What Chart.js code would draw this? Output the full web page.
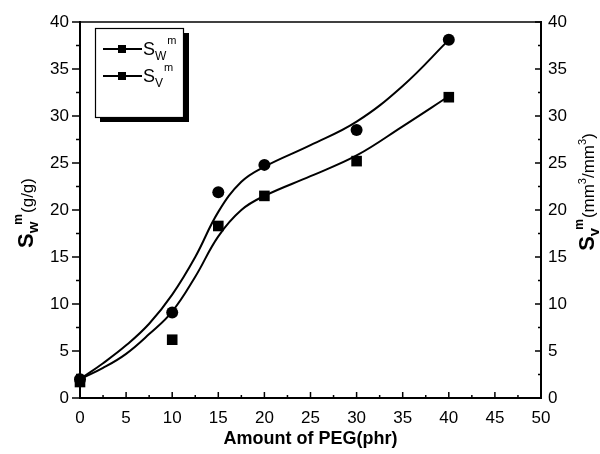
<!DOCTYPE html>
<html>
<head>
<meta charset="utf-8">
<script src="https://cdn.jsdelivr.net/npm/chart.js@4.4.1/dist/chart.umd.min.js"></script>
<style>
  html, body { margin: 0; padding: 0; background: #fff; }
  #wrap { width: 600px; height: 454px; }
</style>
</head>
<body>
<div id="wrap"><canvas id="c" width="600" height="454"></canvas></div>
<script>
// measured points
const pegPhr = [0, 10, 15, 20, 30, 40];
const swm = [2.0, 9.1, 21.9, 24.8, 28.5, 38.1];
const svm = [1.7, 6.2, 18.3, 21.5, 25.2, 32.0];

// fitted curves
const fitPhr = [0, 2.5, 5, 7.5, 10, 12.5, 15, 17.5, 20, 25, 30, 35, 40];
const fitSwm = [2.0, 3.7, 5.6, 7.9, 11.0, 15.0, 19.8, 23.0, 24.6, 26.9, 29.4, 33.2, 38.1];
const fitSvm = [2.0, 3.2, 4.7, 6.8, 9.2, 12.9, 17.2, 20.0, 21.5, 23.6, 25.8, 28.9, 32.1];

const xTicks = [0, 5, 10, 15, 20, 25, 30, 35, 40, 45, 50];
const yTicks = [0, 5, 10, 15, 20, 25, 30, 35, 40];

const FONT = '"Liberation Sans", Arial, sans-serif';

let pts = (xs, ys) => xs.map((x, i) => ({x: x, y: ys[i]}));
let setTicks = list => scale => { scale.ticks = list.map(v => ({value: v})); };

// draw a run of text pieces (sub/superscripts) starting at x along the baseline
let drawParts = (ctx, parts, x, y) => {
	for (let p of parts) {
		ctx.font = p.font;
		ctx.fillText(p.t, x + (p.dx || 0), y + (p.dy || 0));
		x += ctx.measureText(p.t).width + (p.dx || 0);
	}
};
let partsWidth = (ctx, parts) => {
	let w = 0;
	for (let p of parts) { ctx.font = p.font; w += ctx.measureText(p.t).width + (p.dx || 0); }
	return w;
};

const leftTitle = [
	{t: 'S', font: 'bold 22px ' + FONT},
	{t: 'w', font: 'bold 15px ' + FONT, dy: 5},
	{t: 'm', font: 'bold 12px ' + FONT, dy: -11, dx: -3},
	{t: '(g/g)', font: '17px ' + FONT, dx: 1}
];
const rightTitle = [
	{t: 'S', font: 'bold 22px ' + FONT},
	{t: 'v', font: 'bold 15px ' + FONT, dy: 5},
	{t: 'm', font: 'bold 12px ' + FONT, dy: -11, dx: -2},
	{t: '(mm', font: '17px ' + FONT, dx: 1},
	{t: '3', font: '11px ' + FONT, dy: -8},
	{t: '/mm', font: '17px ' + FONT},
	{t: '3', font: '11px ' + FONT, dy: -8},
	{t: ')', font: '17px ' + FONT}
];

const decor = {
	id: 'decor',
	afterDraw(chart) {
		const ctx = chart.ctx;
		const a = chart.chartArea;
		const sx = chart.scales.x, sy = chart.scales.y, sy2 = chart.scales.y2;
		ctx.save();
		ctx.strokeStyle = '#000';
		ctx.fillStyle = '#000';

		// top frame line
		ctx.lineWidth = 1.5;
		ctx.beginPath();
		ctx.moveTo(a.left, a.top);
		ctx.lineTo(a.right, a.top);
		ctx.stroke();

		// tick marks: left outward, bottom and right inward
		ctx.lineWidth = 1.5;
		ctx.beginPath();
		for (let i = 0; i < yTicks.length; i++) {
			let v = yTicks[i];
			let py = sy.getPixelForValue(v);
			ctx.moveTo(a.left, py); ctx.lineTo(a.left - 8, py);
			let py2 = sy2.getPixelForValue(v);
			ctx.moveTo(a.right, py2); ctx.lineTo(a.right - 6, py2);
			if (i < yTicks.length - 1) {
				let m = (v + yTicks[i + 1]) / 2;
				let pm = sy.getPixelForValue(m);
				ctx.moveTo(a.left, pm); ctx.lineTo(a.left - 4, pm);
				ctx.moveTo(a.right, pm); ctx.lineTo(a.right - 3, pm);
			}
		}
		for (let i = 0; i < xTicks.length; i++) {
			let v = xTicks[i];
			let px = sx.getPixelForValue(v);
			ctx.moveTo(px, a.bottom); ctx.lineTo(px, a.bottom - 6);
			if (i < xTicks.length - 1) {
				let pm = sx.getPixelForValue((v + xTicks[i + 1]) / 2);
				ctx.moveTo(pm, a.bottom); ctx.lineTo(pm, a.bottom - 3);
			}
		}
		ctx.stroke();

		// axis titles
		ctx.textBaseline = 'alphabetic';
		ctx.textAlign = 'left';
		ctx.font = 'bold 18px ' + FONT;
		let xt = 'Amount of PEG(phr)';
		ctx.fillText(xt, (a.left + a.right) / 2 - ctx.measureText(xt).width / 2, 444);

		ctx.save();
		ctx.translate(33, 213);
		ctx.rotate(-Math.PI / 2);
		drawParts(ctx, leftTitle, -partsWidth(ctx, leftTitle) / 2, 0);
		ctx.restore();

		ctx.save();
		ctx.translate(594, 192);
		ctx.rotate(-Math.PI / 2);
		drawParts(ctx, rightTitle, -partsWidth(ctx, rightTitle) / 2, 0);
		ctx.restore();

		// legend box with drop shadow
		ctx.fillRect(100, 33, 89, 89);
		ctx.fillStyle = '#fff';
		ctx.fillRect(95, 28, 88, 89);
		ctx.fillStyle = '#000';
		ctx.lineWidth = 1.2;
		ctx.strokeRect(95.5, 28.5, 88, 89);

		let entries = [{y: 49, sub: 'W'}, {y: 76, sub: 'V'}];
		for (let e of entries) {
			ctx.lineWidth = 2;
			ctx.beginPath();
			ctx.moveTo(103, e.y); ctx.lineTo(142, e.y);
			ctx.stroke();
			ctx.fillRect(118, e.y - 4, 8, 8);
			drawParts(ctx, [
				{t: 'S', font: '18px ' + FONT},
				{t: e.sub, font: '12px ' + FONT, dy: 5},
				{t: 'm', font: '11px ' + FONT, dy: -11, dx: 1}
			], 143, e.y + 6);
		}
		ctx.restore();
	}
};

new Chart(document.getElementById('c'), {
	type: 'scatter',
	data: {
		datasets: [
			{
				label: 'Sw fit', data: pts(fitPhr, fitSwm), showLine: true,
				borderColor: '#000', borderWidth: 2, pointRadius: 0,
				tension: 0.4, clip: false, order: 2
			},
			{
				label: 'Sv fit', data: pts(fitPhr, fitSvm), showLine: true,
				borderColor: '#000', borderWidth: 2, pointRadius: 0,
				tension: 0.4, clip: false, order: 2
			},
			{
				label: 'Sw', data: pts(pegPhr, swm), pointStyle: 'circle', pointRadius: 6,
				backgroundColor: '#000', borderColor: '#000', borderWidth: 0, clip: false, order: 1
			},
			{
				label: 'Sv', data: pts(pegPhr, svm), pointStyle: 'rect', pointRadius: 7.5,
				backgroundColor: '#000', borderColor: '#000', borderWidth: 0, clip: false, order: 1
			}
		]
	},
	options: {
		responsive: false,
		animation: false,
		layout: { padding: { top: 22, right: 0, bottom: 0, left: 0 } },
		plugins: { legend: { display: false }, tooltip: { enabled: false } },
		scales: {
			x: {
				type: 'linear', position: 'bottom', min: 0, max: 50,
				afterBuildTicks: setTicks(xTicks),
				afterFit: s => { s.height = 56; },
				grid: { display: false, drawTicks: false },
				border: { display: true, color: '#000', width: 2 },
				ticks: { color: '#000', padding: 10, font: { family: FONT, size: 17 } }
			},
			y: {
				type: 'linear', position: 'left', min: 0, max: 40,
				afterBuildTicks: setTicks(yTicks),
				afterFit: s => { s.width = 80; },
				grid: { display: false, drawTicks: false },
				border: { display: true, color: '#000', width: 2 },
				ticks: { color: '#000', padding: 11, font: { family: FONT, size: 17 } }
			},
			y2: {
				type: 'linear', position: 'right', min: 0, max: 40,
				afterBuildTicks: setTicks(yTicks),
				afterFit: s => { s.width = 59; },
				grid: { display: false, drawTicks: false },
				border: { display: true, color: '#000', width: 2 },
				ticks: { color: '#000', padding: 7, font: { family: FONT, size: 17 } }
			}
		}
	},
	plugins: [decor]
});
</script>
</body>
</html>
